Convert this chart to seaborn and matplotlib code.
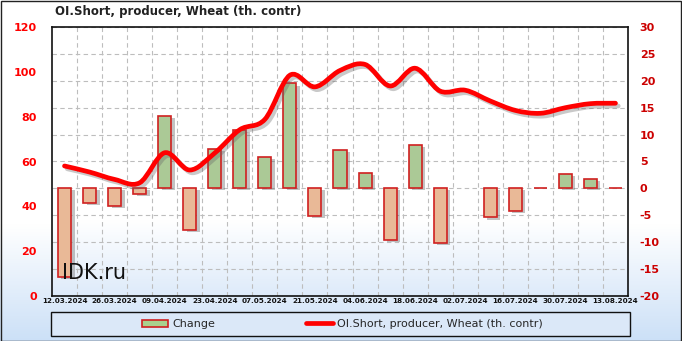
import numpy as np
import pandas as pd
import matplotlib
matplotlib.use("Agg")
import matplotlib.pyplot as plt
import seaborn as sns
from matplotlib.path import Path
from matplotlib.patches import PathPatch, Rectangle, Patch
from matplotlib.lines import Line2D
import matplotlib.patheffects as pe

# ---------------- data ----------------
dates = ["12.03.2024", "19.03.2024", "26.03.2024", "02.04.2024", "09.04.2024",
         "16.04.2024", "23.04.2024", "30.04.2024", "07.05.2024", "14.05.2024",
         "21.05.2024", "28.05.2024", "04.06.2024", "11.06.2024", "18.06.2024",
         "25.06.2024", "02.07.2024", "09.07.2024", "16.07.2024", "23.07.2024",
         "30.07.2024", "06.08.2024", "13.08.2024"]
change = [-16.4, -2.7, -3.3, -1.0, 13.4, -7.7, 7.4, 10.8, 5.9, 19.5,
          -5.2, 7.2, 2.8, -9.6, 8.0, -10.1, np.nan, -5.4, -4.2, 0.0,
          2.6, 1.8, 0.0]
oi_short = [58.0, 55.3, 52.0, 50.5, 63.9, 56.2, 63.8, 74.2, 78.8, 98.5,
            93.3, 100.6, 103.3, 93.7, 101.6, 91.4, 91.8, 87.0, 82.8, 81.5,
            84.0, 85.8, 86.0]
left_ticks = [0, 20, 40, 60, 80, 100, 120]
right_ticks = [-20, -15, -10, -5, 0, 5, 10, 15, 20, 25, 30]

title = "OI.Short, producer, Wheat (th. contr)"
bar_label = "Change"
line_label = "OI.Short, producer, Wheat (th. contr)"

GREEN = "#a9d18e"
ORANGE = "#f6b68a"
EDGE = "#d02020"
LINE = "#ff0000"

sns.set_theme(style="white")
plt.rcParams["font.family"] = ["DejaVu Sans"]

W, H = 682, 341
fig = plt.figure(figsize=(W / 100, H / 100), dpi=100)

# figure background gradient
bg = fig.add_axes([0, 0, 1, 1], zorder=-10)
grad = np.linspace(0, 1, 256).reshape(-1, 1)
c_top = np.array([1.0, 1.0, 1.0])
c_bot = np.array([0.80, 0.88, 0.97])
t = np.clip((grad - 0.66) / 0.34, 0, 1)
img = c_top * (1 - t) + c_bot * t
bg.imshow(img.reshape(256, 1, 3), aspect="auto", extent=[0, 1, 0, 1], origin="upper")
bg.set_axis_off()
fig.patches.append(Rectangle((0.5 / W, 0.5 / H), 1 - 1.5 / W, 1 - 1.5 / H,
                             transform=fig.transFigure, fill=False,
                             edgecolor="#222222", linewidth=1.0))

# main axes (bars, right scale)
ax = fig.add_axes([52 / W, 1 - 296 / H, 576 / W, 269 / H])
x_idx = np.arange(len(dates))

# plot-area gradient
ag = np.linspace(0, 1, 256).reshape(-1, 1)
ta = np.clip((ag - 0.72) / 0.28, 0, 1)
aimg = c_top * (1 - ta) + np.array([0.87, 0.92, 0.98]) * ta
ax.imshow(aimg.reshape(256, 1, 3), aspect="auto", extent=[-0.5, 22.5, -20, 30],
          origin="upper", zorder=0)

df = pd.DataFrame({"idx": x_idx, "change": change,
                   "sign": ["pos" if (v >= 0 or np.isnan(v)) else "neg" for v in change]})
sns.barplot(data=df, x="idx", y="change", hue="sign", order=list(x_idx),
            palette={"pos": GREEN, "neg": ORANGE}, dodge=False, width=0.52,
            edgecolor=EDGE, linewidth=1.2, legend=False, ax=ax, zorder=3)
for p in ax.patches:
    p.set_path_effects([pe.SimplePatchShadow(offset=(2.5, -1.5), shadow_rgbFace="#555555",
                                             alpha=0.35), pe.Normal()])

ax.set_xlim(-0.5, 22.5)
ax.set_ylim(-20, 30)
ax.set_xticks(x_idx[::2])
ax.set_xticklabels(dates[::2], fontsize=5.2, fontweight="bold", color="#111111")
ax.set_xticks(x_idx[:-1] + 0.5, minor=True)
ax.tick_params(axis="x", which="both", length=0, pad=1.5)
ax.set_xlabel("")
ax.set_ylabel("")
ax.grid(False)
ax.set_axisbelow(True)
for s in ax.spines.values():
    s.set_color("#111111")
    s.set_linewidth(1.2)

# line axes (left scale)
ax2 = ax.twinx()
ax2.set_ylim(0, 120)
ax2.yaxis.tick_left()
ax2.yaxis.set_label_position("left")
ax2.set_yticks(left_ticks)
ax2.set_yticklabels([str(v) for v in left_ticks])
ax2.tick_params(axis="y", length=0, pad=11, labelsize=8, labelcolor="#ff0000")
for lab in ax2.get_yticklabels():
    lab.set_fontweight("bold")
ax2.grid(False)
for s in ax2.spines.values():
    s.set_visible(False)

# right-hand scale for the bars (set after twinx, which resets sides)
ax.yaxis.tick_right()
ax.yaxis.set_label_position("right")
ax.set_yticks(right_ticks)
ax.set_yticklabels([str(v) for v in right_ticks])
ax.tick_params(axis="y", length=0, pad=8.5, labelsize=8, labelcolor="#cc0000",
               left=False, labelleft=False, right=True, labelright=True)
for lab in ax.get_yticklabels():
    lab.set_fontweight("bold")
ax.grid(True, axis="y", which="major", color="#bdbdbd", linestyle=(0, (4, 3)), linewidth=0.8)
ax.grid(True, axis="x", which="minor", color="#bdbdbd", linestyle=(0, (4, 3)), linewidth=0.8)
ax.grid(False, axis="x", which="major")

# smooth curve through the points (Catmull-Rom as cubic Bezier)
pts = np.column_stack([x_idx, oi_short]).astype(float)
n = len(pts)
tang = np.zeros_like(pts)
tang[1:-1] = (pts[2:] - pts[:-2]) / 2
tang[0] = pts[1] - pts[0]
tang[-1] = pts[-1] - pts[-2]
verts = [tuple(pts[0])]
codes = [Path.MOVETO]
for i in range(n - 1):
    verts += [tuple(pts[i] + tang[i] / 3), tuple(pts[i + 1] - tang[i + 1] / 3), tuple(pts[i + 1])]
    codes += [Path.CURVE4] * 3
curve = PathPatch(Path(verts, codes), fill=False, edgecolor=LINE, linewidth=3.4,
                  capstyle="round", joinstyle="round", zorder=5)
curve.set_path_effects([pe.SimpleLineShadow(offset=(2, -2), shadow_color="#666666", alpha=0.35),
                        pe.Normal()])
ax2.add_patch(curve)

ax2.text((62 - 52) / 576, (296 - 279) / 269, "IDK.ru", transform=ax.transAxes,
         fontsize=15, color="#111111", va="baseline", ha="left", zorder=6)

# title
fig.text(55 / W, 1 - 12 / H, title, fontsize=8.5, fontweight="bold", color="#222222",
         ha="left", va="center")

# legend box
fig.patches.append(Rectangle((51 / W, 1 - 336 / H), 579 / W, 24 / H, transform=fig.transFigure,
                             facecolor="#dbe8f8", edgecolor="#111111", linewidth=1.0, zorder=1))
handles = [Patch(facecolor=GREEN, edgecolor=EDGE, linewidth=1.2),
           Line2D([0], [0], color=LINE, linewidth=3.4)]
leg = fig.legend(handles, [bar_label, line_label], loc="center",
                 bbox_to_anchor=(342 / W, 1 - 324 / H), ncol=2, frameon=False,
                 fontsize=8, handlelength=2.4, handleheight=0.6, handletextpad=0.35,
                 columnspacing=8.2)
leg.set_zorder(5)

fig.savefig("out.png", dpi=100)
